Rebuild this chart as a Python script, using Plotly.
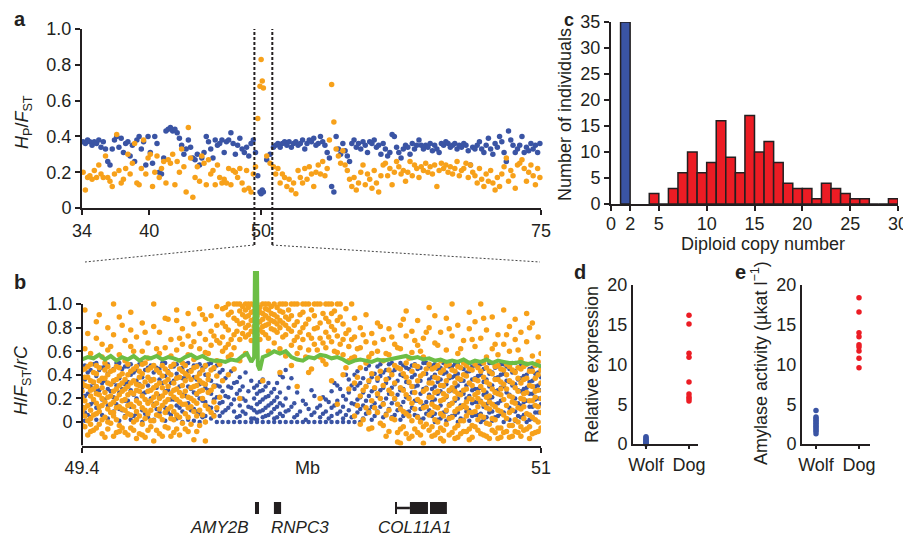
import plotly.graph_objects as go

# ---------------- DATA ----------------
# Panel a: window positions (Mb) and two statistics
a_pos = [34.1,34.3,34.5,34.7,34.9,35.1,35.3,35.5,35.7,35.9,
         36.1,36.3,36.5,36.7,36.9,37.1,37.3,37.5,37.7,37.9,
         38.1,38.3,38.5,38.7,38.9,39.1,39.3,39.5,39.7,39.9,
         40.1,40.3,40.5,40.7,40.9,41.1,41.3,41.5,41.7,41.9,
         42.1,42.3,42.5,42.7,42.9,43.1,43.3,43.5,43.7,43.9,
         44.1,44.3,44.5,44.7,44.9,45.1,45.3,45.5,45.7,45.9,
         46.1,46.3,46.5,46.7,46.9,47.1,47.3,47.5,47.7,47.9,
         48.1,48.3,48.5,48.7,48.9,49.1,49.3,49.5,49.7,49.9,
         50.0,50.1,50.2,50.5,50.8,
         51.1,51.3,51.5,51.7,51.9,52.1,52.3,52.5,52.7,52.9,
         53.1,53.3,53.5,53.7,53.9,54.1,54.3,54.5,54.7,54.9,
         55.1,55.3,55.5,55.7,55.9,56.1,56.3,56.5,56.7,56.9,
         57.1,57.3,57.5,57.7,57.9,58.1,58.3,58.5,58.7,58.9,
         59.1,59.3,59.5,59.7,59.9,60.1,60.3,60.5,60.7,60.9,
         61.1,61.3,61.5,61.7,61.9,62.1,62.3,62.5,62.7,62.9,
         63.1,63.3,63.5,63.7,63.9,64.1,64.3,64.5,64.7,64.9,
         65.1,65.3,65.5,65.7,65.9,66.1,66.3,66.5,66.7,66.9,
         67.1,67.3,67.5,67.7,67.9,68.1,68.3,68.5,68.7,68.9,
         69.1,69.3,69.5,69.7,69.9,70.1,70.3,70.5,70.7,70.9,
         71.1,71.3,71.5,71.7,71.9,72.1,72.3,72.5,72.7,72.9,
         73.1,73.3,73.5,73.7,73.9,74.1,74.3,74.5,74.7,74.9]
a_blue = [.37,.36,.38,.37,.35,.37,.36,.38,.34,.37,
          .33,.26,.24,.33,.38,.40,.34,.39,.31,.36,
          .37,.29,.35,.26,.38,.40,.33,.37,.24,.40,
          .31,.25,.40,.36,.20,.19,.28,.43,.44,.45,
          .43,.44,.42,.39,.35,.30,.33,.38,.34,.28,
          .27,.30,.24,.28,.31,.40,.37,.33,.28,.38,
          .35,.36,.38,.31,.37,.38,.42,.36,.30,.35,
          .39,.33,.31,.34,.29,.36,.38,.31,.18,.09,
          .08,.10,.09,.27,.30,
          .34,.35,.36,.34,.36,.37,.35,.37,.34,.36,
          .37,.35,.36,.38,.33,.36,.38,.37,.39,.35,
          .36,.40,.37,.35,.31,.28,.12,.09,.40,.33,
          .30,.36,.32,.29,.26,.36,.38,.34,.36,.33,
          .37,.35,.31,.37,.36,.38,.34,.35,.30,.36,
          .33,.29,.31,.41,.40,.34,.31,.28,.33,.35,
          .34,.30,.36,.33,.35,.38,.35,.33,.35,.34,
          .36,.32,.35,.33,.31,.36,.35,.37,.36,.34,
          .35,.36,.33,.35,.34,.36,.35,.32,.24,.34,
          .33,.35,.37,.33,.31,.35,.39,.33,.30,.36,
          .34,.40,.37,.31,.26,.43,.38,.35,.31,.33,
          .35,.40,.31,.34,.32,.36,.33,.35,.31,.36]
a_orange = [.20,.10,.17,.18,.16,.21,.17,.24,.19,.17,
            .29,.17,.15,.12,.19,.41,.21,.14,.16,.22,
            .30,.19,.25,.36,.14,.13,.22,.38,.19,.28,
            .30,.12,.20,.29,.17,.22,.26,.14,.27,.25,
            .30,.13,.26,.20,.33,.23,.09,.45,.28,.06,
            .17,.23,.15,.29,.25,.13,.27,.19,.21,.13,
            .24,.17,.14,.16,.14,.22,.13,.21,.20,.17,
            .22,.14,.10,.21,.11,.09,.19,.23,.50,.68,
            .83,.71,.67,.29,.25,
            .23,.19,.22,.14,.19,.17,.12,.16,.10,.14,
            .08,.21,.17,.14,.22,.16,.23,.19,.12,.20,
            .24,.19,.26,.18,.22,.38,.69,.48,.33,.29,
            .25,.32,.24,.21,.16,.12,.17,.10,.14,.20,
            .24,.13,.19,.16,.11,.21,.14,.09,.18,.24,
            .25,.18,.22,.13,.20,.26,.23,.19,.21,.15,
            .20,.26,.18,.24,.22,.17,.23,.21,.25,.20,
            .23,.19,.24,.12,.21,.25,.22,.24,.20,.23,
            .19,.22,.26,.18,.21,.22,.25,.17,.24,.20,
            .18,.14,.22,.16,.12,.19,.15,.21,.14,.10,
            .17,.12,.19,.23,.28,.15,.21,.18,.11,.24,
            .25,.27,.22,.15,.20,.24,.18,.13,.22,.17]
a_ticks = [34, 40, 50, 75]
a_zoom = [49.4, 51.0]

# Panel b: columns of sites (Mb) with the values found in each column
b_cols = [49.41,49.43,49.45,49.47,49.49,49.51,49.53,49.55,49.57,49.59,
          49.61,49.63,49.65,49.67,49.69,49.71,49.73,49.75,49.77,49.79,
          49.81,49.83,49.85,49.87,
          49.89,49.91,49.93,49.95,49.97,49.99,50.01,50.03,50.05,50.07,
          50.09,50.11,50.13,50.15,50.17,50.19,50.21,50.23,50.25,50.27,
          50.29,50.31,50.33,
          50.35,50.37,50.39,50.41,50.43,50.45,50.47,50.49,50.51,50.53,
          50.55,50.57,50.59,50.61,
          50.63,50.65,50.67,50.69,50.71,50.73,50.75,50.77,50.79,50.81,
          50.83,50.85,50.87,50.89,50.91,50.93,50.95,50.97,50.99]
b_orange = [
 [0.95,0.62,0.45,0.31,0.18,0.05,-0.04,0.12,0.38],
 [0.58,0.49,0.22,0.10,-0.02,0.27,0.35,0.03,-0.08],
 [0.85,0.71,0.41,0.30,0.16,0.07,-0.05,0.24,0.48],
 [0.66,0.55,0.37,0.20,0.02,-0.10,0.14,0.29],
 [0.80,0.61,0.47,0.33,0.11,0.00,-0.06,0.21,0.40],
 [1.00,0.74,0.44,0.26,0.08,-0.12,0.17,0.35,0.05],
 [0.89,0.57,0.39,0.23,0.13,-0.03,0.31,0.46,-0.08],
 [0.69,0.52,0.28,0.19,0.04,-0.09,0.36,0.10],
 [0.93,0.78,0.64,0.43,0.25,0.06,-0.05,0.15,0.33],
 [0.72,0.47,0.32,0.18,0.02,-0.14,0.09,0.27],
 [0.84,0.60,0.41,0.22,0.12,-0.02,-0.11,0.30,0.49],
 [0.67,0.54,0.38,0.26,0.07,-0.07,0.16,0.44],
 [1.00,0.81,0.48,0.29,0.14,0.01,-0.16,0.21,0.36],
 [0.76,0.58,0.42,0.20,0.05,-0.10,0.11,0.33],
 [0.88,0.63,0.45,0.34,0.17,-0.04,0.08,0.25],
 [0.70,0.56,0.40,0.24,0.03,-0.12,0.13,0.47],
 [0.95,0.86,0.61,0.37,0.19,0.06,-0.06,0.28],
 [0.79,0.66,0.50,0.31,0.15,-0.01,0.22,0.43],
 [0.92,0.73,0.57,0.39,0.21,0.04,-0.08,0.12],
 [0.83,0.68,0.53,0.46,0.30,0.09,-0.15,0.18],
 [0.96,0.75,0.62,0.41,0.26,0.10,-0.03,0.35],
 [0.87,0.70,0.59,0.48,0.32,0.14,0.00,-0.16],
 [0.90,0.77,0.65,0.44,0.27,0.08],
 [0.98,0.82,0.69,0.52,0.39,0.12],
 [0.96,0.84,0.72,0.60,0.35],
 [1.00,0.91,0.78,0.66,0.55,0.40],
 [1.00,0.88,0.74,0.63,0.45],
 [1.00,0.94,0.83,0.70,0.52,0.20],
 [1.00,0.95,0.89,0.80,0.72,0.58],
 [1.00,0.93,0.86,0.77,0.69],
 [1.00,0.96,0.90,0.84,0.79,0.74],
 [1.00,0.92,0.87,0.81,0.76,0.35],
 [1.00,0.95,0.88,0.83,0.71,0.60],
 [1.00,0.91,0.85,0.78,0.67],
 [1.00,0.94,0.86,0.80,0.62,0.42],
 [1.00,0.89,0.82,0.74,0.56],
 [1.00,0.90,0.77,0.65,0.48],
 [1.00,0.85,0.72,0.58,0.30],
 [1.00,0.93,0.80,0.70],
 [1.00,0.87,0.74,0.61,0.42],
 [1.00,0.90,0.79,0.66],
 [1.00,0.84,0.71,0.55,0.20],
 [1.00,0.88,0.76,0.63,0.49],
 [1.00,0.92,0.81,0.68,0.35],
 [1.00,0.86,0.73,0.59,0.15],
 [0.83,0.70,0.57,0.40],
 [0.78,0.64,0.52,0.28],
 [0.88,0.72,0.55,0.33,0.05],
 [0.80,0.63,0.46,0.22,-0.02],
 [0.91,0.68,0.50,0.30,0.12],
 [0.75,0.58,0.41,0.18,-0.05],
 [0.84,0.60,0.37,0.24,0.08],
 [0.70,0.52,0.31,0.15,-0.03],
 [0.79,0.57,0.44,0.27,0.10,-0.08],
 [0.66,0.48,0.33,0.20,0.02],
 [0.82,0.62,0.45,0.29,0.11,-0.06,-0.18],
 [0.94,0.73,0.50,0.38,0.23,0.07,-0.10],
 [0.77,0.59,0.43,0.30,0.16,0.01,-0.12],
 [0.86,0.65,0.47,0.35,0.19,0.04,-0.09],
 [0.71,0.55,0.41,0.26,0.12,-0.04,-0.18],
 [0.97,0.80,0.49,0.33,0.21,0.06,-0.07],
 [0.90,0.67,0.46,0.38,0.25,0.13,0.02,-0.11],
 [0.76,0.52,0.42,0.31,0.18,0.07,-0.05,-0.14],
 [0.88,0.61,0.48,0.35,0.22,0.10,-0.02],
 [1.00,0.73,0.44,0.29,0.16,0.04,-0.09],
 [0.82,0.58,0.47,0.37,0.24,0.11,-0.03,-0.13],
 [0.69,0.50,0.40,0.27,0.14,0.01,-0.08],
 [0.93,0.79,0.45,0.33,0.20,0.08,-0.06,-0.15],
 [0.85,0.64,0.49,0.36,0.23,0.09,-0.04],
 [1.00,0.71,0.43,0.30,0.17,0.05,-0.10],
 [0.78,0.55,0.46,0.34,0.21,0.12,-0.01,-0.12],
 [0.89,0.62,0.41,0.28,0.15,0.03,-0.07],
 [0.74,0.57,0.48,0.36,0.24,0.10,-0.05,-0.14],
 [0.95,0.66,0.44,0.32,0.19,0.06,-0.09],
 [0.81,0.60,0.47,0.35,0.22,0.08,-0.03,-0.13],
 [0.87,0.70,0.42,0.29,0.16,0.02,-0.08],
 [0.76,0.53,0.45,0.33,0.20,0.11,-0.04,-0.12],
 [0.92,0.68,0.49,0.37,0.25,0.07,-0.06],
 [0.84,0.56,0.43,0.30,0.18,0.04,-0.10],
 [0.72,0.51,0.40,0.27,0.13,0.00,-0.08]]
b_blue = [
 [0.48,0.36,0.22,0.08,0.01],[0.44,0.30,0.15,0.04],[0.50,0.39,0.26,0.12,0.02],
 [0.46,0.33,0.19,0.06],[0.49,0.41,0.28,0.14,0.03],[0.45,0.34,0.21,0.09],
 [0.50,0.37,0.25,0.11,0.01],[0.47,0.32,0.18,0.05],[0.49,0.40,0.27,0.13,0.02],
 [0.44,0.35,0.20,0.07],[0.50,0.38,0.24,0.10,0.00],[0.46,0.31,0.17,0.04],
 [0.48,0.42,0.29,0.15,0.02],[0.45,0.36,0.22,0.08],[0.50,0.39,0.26,0.12,0.01],
 [0.47,0.33,0.19,0.06],[0.49,0.41,0.28,0.14,0.03],[0.46,0.37,0.23,0.09,0.00],
 [0.50,0.43,0.30,0.16,0.02],[0.48,0.38,0.25,0.11,0.01],[0.49,0.42,0.32,0.20,0.07,0.00],
 [0.47,0.40,0.29,0.17,0.05,0.00],[0.50,0.44,0.35,0.24,0.12,0.03],[0.48,0.39,0.31,0.21,0.10,0.00],
 [0.44,0.35,0.26,0.17,0.08,0.00],[0.40,0.30,0.21,0.12,0.00],[0.45,0.33,0.19,0.09,0.00],
 [0.38,0.27,0.14,0.05,0.00],[0.42,0.18,0.07,0.00],[0.35,0.12,0.03,0.00],
 [0.31,0.24,0.15,0.08,0.02,0.00],[0.36,0.27,0.19,0.10,0.04,0.00],[0.33,0.22,0.14,0.06,0.00],
 [0.28,0.18,0.11,0.03,0.00],[0.40,0.25,0.16,0.07,0.00],[0.44,0.20,0.09,0.00],
 [0.37,0.13,0.00],[0.25,0.06,0.00],[0.18,0.00],[0.11,0.00],[0.22,0.08,0.00],
 [0.14,0.04,0.00],[0.19,0.09,0.00],[0.26,0.12,0.05,0.00],[0.31,0.18,0.07,0.00],
 [0.22,0.13,0.03,0.00],[0.36,0.25,0.10,0.00],
 [0.40,0.28,0.15,0.05,0.00],[0.33,0.21,0.11,0.00],[0.45,0.30,0.18,0.07],
 [0.38,0.26,0.13,0.02],[0.47,0.35,0.22,0.09],[0.42,0.29,0.16,0.04],
 [0.49,0.37,0.24,0.11],[0.44,0.32,0.19,0.06],[0.50,0.40,0.27,0.13,0.02],
 [0.46,0.34,0.21,0.08],[0.48,0.38,0.25,0.12,0.01],[0.45,0.31,0.18,0.05],
 [0.50,0.41,0.28,0.14,0.03],[0.47,0.36,0.23,0.10],
 [0.49,0.40,0.30,0.19,0.07,0.00],[0.46,0.36,0.26,0.14,0.03],[0.50,0.42,0.32,0.21,0.09,0.01],
 [0.47,0.38,0.27,0.16,0.05],[0.49,0.41,0.31,0.20,0.08,0.00],[0.45,0.35,0.24,0.13,0.02],
 [0.50,0.43,0.33,0.22,0.10,0.01],[0.48,0.37,0.28,0.17,0.06],[0.49,0.40,0.29,0.18,0.07,0.00],
 [0.46,0.36,0.25,0.15,0.04],[0.50,0.42,0.31,0.21,0.09,0.01],[0.47,0.38,0.27,0.16,0.05],
 [0.49,0.41,0.30,0.19,0.08,0.00],[0.45,0.34,0.23,0.12,0.02],[0.50,0.43,0.32,0.20,0.09,0.01],
 [0.48,0.37,0.26,0.14,0.04],[0.49,0.40,0.29,0.18,0.07,0.00],[0.46,0.35,0.24,0.13,0.03],
 [0.50,0.42,0.31,0.20,0.08]]
# second set of site columns, between the first ones
b_cols2 = [49.40,49.42,49.44,49.46,49.48,49.50,49.52,49.54,49.56,49.58,
           49.60,49.62,49.64,49.66,49.68,49.70,49.72,49.74,49.76,49.78,
           49.80,49.82,49.84,49.86,49.88,
           49.90,49.92,49.94,49.96,49.98,50.00,50.02,50.04,50.06,50.08,
           50.10,50.12,50.14,50.16,50.18,50.20,50.22,50.24,50.26,50.28,
           50.30,50.32,50.34,
           50.36,50.38,50.40,50.42,50.44,50.46,50.48,50.50,50.52,50.54,
           50.56,50.58,50.60,
           50.62,50.64,50.66,50.68,50.70,50.72,50.74,50.76,50.78,50.80,
           50.82,50.84,50.86,50.88,50.90,50.92,50.94,50.96,50.98,51.00]
b_orange2 = [
 [0.44,0.33,0.21,0.09,-0.03,0.26],[0.75,0.47,0.38,0.14,0.01,-0.11,0.30],
 [0.42,0.28,0.06,-0.07,0.19,0.34],[0.91,0.46,0.35,0.23,0.09,-0.02,0.13],
 [0.50,0.37,0.25,0.04,-0.13,0.17,0.44],[0.64,0.43,0.32,0.15,-0.01,0.22,0.08],
 [0.47,0.36,0.20,0.02,-0.09,0.28,0.12],[0.82,0.41,0.26,0.11,-0.05,0.33,0.18],
 [0.49,0.40,0.23,0.07,-0.11,0.30,0.14],[0.60,0.45,0.35,0.13,0.00,0.24,-0.07],
 [0.43,0.31,0.16,0.05,-0.10,0.26,0.38],[0.76,0.50,0.34,0.19,0.03,-0.13,0.10],
 [0.46,0.27,0.10,-0.04,0.35,0.18,0.01],[0.62,0.44,0.31,0.16,-0.07,0.24,0.06],
 [0.48,0.39,0.22,0.02,-0.12,0.29,0.14],[0.87,0.42,0.30,0.11,-0.05,0.19,0.36],
 [0.49,0.33,0.21,0.09,-0.09,0.27,0.02],[0.71,0.45,0.38,0.17,0.04,-0.11,0.25],
 [0.48,0.35,0.26,0.07,-0.06,0.15,0.41],[0.64,0.43,0.29,0.13,-0.02,0.20,0.36],
 [0.47,0.38,0.24,0.05,-0.08,0.31,0.16],[0.91,0.44,0.33,0.20,0.06,0.27],
 [0.58,0.40,0.25,0.11,0.36],[0.73,0.46,0.30,0.17,0.05],[0.67,0.49,0.21],
 [0.97,0.81,0.63],[0.93,0.70,0.57],[1.00,0.86,0.77],[0.98,0.91,0.84,0.75],
 [1.00,0.97,0.90,0.82,0.74],[0.99,0.94,0.87,0.81,0.76],[0.97,0.93,0.85,0.78,0.70],
 [1.00,0.96,0.90,0.82,0.74],[0.98,0.92,0.86,0.79],[0.97,0.89,0.83,0.76],
 [1.00,0.93,0.84,0.72],[0.95,0.87,0.79],[1.00,0.82,0.69],[0.91,0.76,0.63],
 [1.00,0.83,0.55],[0.95,0.71,0.45],[1.00,0.80,0.61],[0.92,0.67,0.52],
 [1.00,0.85,0.72],[0.94,0.78,0.60],[1.00,0.89,0.66],[0.96,0.75,0.46],[1.00,0.70,0.54],
 [0.62,0.38,0.14],[0.74,0.27,0.02],[0.55,0.35,0.08,-0.06],[0.67,0.29,0.12],
 [0.81,0.43,0.20,-0.01],[0.58,0.36,0.06,-0.12],[0.72,0.40,0.24,0.03],
 [0.63,0.46,0.15,-0.09,-0.17],[0.87,0.41,0.27,0.09,-0.04],[0.54,0.34,0.20,0.05,-0.14],
 [0.69,0.48,0.25,0.11,-0.06],[0.60,0.39,0.17,0.00,-0.11],[0.76,0.45,0.28,0.13,-0.02],
 [0.45,0.33,0.21,0.08,-0.04,0.15,-0.12],[0.65,0.48,0.37,0.26,0.12,0.00,-0.09],
 [0.44,0.31,0.19,0.05,-0.07,0.24,-0.16],[0.79,0.49,0.39,0.27,0.14,0.03,-0.11],
 [0.43,0.33,0.20,0.09,-0.05,0.26,-0.14],[0.62,0.46,0.36,0.23,0.12,0.01,-0.10],
 [0.48,0.39,0.28,0.17,0.05,-0.08,0.12],[0.70,0.44,0.31,0.19,0.08,-0.03,-0.13],
 [0.46,0.35,0.25,0.13,0.02,-0.07,0.20],[0.88,0.50,0.38,0.27,0.15,0.04,-0.11],
 [0.43,0.32,0.22,0.11,-0.02,0.17,-0.14],[0.66,0.47,0.36,0.25,0.13,0.02,-0.09],
 [0.45,0.34,0.23,0.09,-0.05,0.28,-0.13],[0.74,0.49,0.40,0.28,0.14,0.03,-0.08],
 [0.44,0.33,0.21,0.10,-0.03,0.17,-0.12],[0.61,0.46,0.37,0.26,0.12,0.00,-0.09],
 [0.47,0.36,0.24,0.13,0.03,-0.07,0.19],[0.80,0.43,0.31,0.18,0.06,-0.04,-0.14],
 [0.48,0.37,0.26,0.14,0.02,-0.09,0.21],[0.58,0.44,0.33,0.20,0.08,-0.05]]
b_blue2 = [
 [0.47,0.29,0.13],[0.42,0.24,0.06],[0.49,0.33,0.17],[0.44,0.27,0.09],[0.48,0.35,0.19],
 [0.43,0.26,0.08],[0.50,0.31,0.15],[0.45,0.28,0.10],[0.47,0.34,0.18],[0.42,0.23,0.05],
 [0.49,0.32,0.16],[0.44,0.25,0.07],[0.48,0.36,0.20],[0.46,0.29,0.11],[0.50,0.33,0.14],
 [0.43,0.27,0.08],[0.47,0.35,0.19],[0.45,0.30,0.12],[0.49,0.37,0.22],[0.44,0.28,0.10],
 [0.48,0.36,0.23,0.09],[0.46,0.33,0.18,0.04],[0.49,0.39,0.27,0.13],[0.45,0.31,0.19,0.06],
 [0.42,0.30,0.16,0.05],
 [0.37,0.22,0.10],[0.43,0.29,0.15],[0.34,0.24,0.04],[0.30,0.20,0.09],[0.26,0.13],
 [0.29,0.20,0.10,0.03],[0.34,0.26,0.17,0.09],[0.30,0.21,0.12,0.05],[0.25,0.16,0.08],
 [0.33,0.21,0.13,0.04],[0.38,0.14,0.05],[0.29,0.10],[0.16,0.04],[0.09],[0.15,0.02],
 [0.27,0.06],[0.12],[0.21,0.07],[0.17,0.03],[0.33,0.14],[0.28,0.09],[0.40,0.19,0.06],
 [0.31,0.16,0.04],
 [0.43,0.31,0.19,0.08],[0.37,0.25,0.14,0.03],[0.48,0.34,0.22,0.10],[0.41,0.28,0.16,0.05],
 [0.49,0.39,0.27,0.13],[0.44,0.33,0.20,0.07],[0.50,0.42,0.29,0.16,0.04],[0.46,0.35,0.23,0.10],
 [0.48,0.39,0.28,0.17,0.05],[0.45,0.33,0.21,0.09],[0.49,0.40,0.30,0.18,0.06],
 [0.46,0.35,0.24,0.11,0.02],[0.50,0.41,0.29,0.17,0.07],
 [0.48,0.38,0.28,0.17,0.05],[0.45,0.34,0.24,0.12,0.02],[0.50,0.41,0.30,0.19,0.08],
 [0.47,0.37,0.26,0.15,0.04],[0.49,0.39,0.29,0.18,0.06],[0.46,0.35,0.25,0.14,0.03],
 [0.50,0.42,0.31,0.20,0.09],[0.47,0.36,0.27,0.16,0.05],[0.48,0.39,0.28,0.17,0.06],
 [0.45,0.34,0.23,0.13,0.02],[0.50,0.41,0.30,0.19,0.08],[0.46,0.37,0.26,0.15,0.04],
 [0.49,0.40,0.29,0.18,0.07],[0.47,0.35,0.25,0.14,0.03],[0.50,0.42,0.31,0.21,0.10],
 [0.46,0.36,0.27,0.16,0.05],[0.48,0.39,0.28,0.17,0.06],[0.45,0.34,0.24,0.13,0.02],
 [0.49,0.41,0.30,0.19,0.08],[0.47,0.38,0.27,0.15]]
b_line_x = [49.40,49.42,49.44,49.46,49.48,49.50,49.52,49.54,49.56,49.58,
            49.60,49.62,49.64,49.66,49.68,49.70,49.72,49.74,49.76,49.78,
            49.80,49.82,49.84,49.86,49.88,49.90,49.92,49.94,49.96,49.975,
            49.99,50.000,50.003,50.010,50.013,50.02,50.03,50.05,50.07,50.09,
            50.11,50.13,50.15,50.17,50.19,50.21,50.23,50.25,50.27,50.29,
            50.31,50.33,50.35,50.37,50.39,50.41,50.43,50.45,50.47,50.49,
            50.51,50.53,50.55,50.57,50.59,50.61,50.63,50.65,50.67,50.69,
            50.71,50.73,50.75,50.77,50.79,50.81,50.83,50.85,50.87,50.89,
            50.91,50.93,50.95,50.97,50.99,51.00]
b_line_y = [.53,.55,.54,.57,.53,.56,.52,.55,.53,.56,
            .52,.55,.54,.56,.53,.55,.54,.52,.55,.57,
            .54,.56,.53,.52,.52,.51,.53,.52,.56,.58,
            .51,.55,1.32,1.32,.48,.44,.55,.57,.60,.58,
            .60,.55,.53,.52,.55,.54,.57,.56,.54,.55,
            .53,.50,.52,.53,.52,.51,.53,.52,.53,.54,
            .55,.56,.54,.55,.53,.54,.52,.53,.51,.52,
            .51,.53,.50,.52,.51,.53,.50,.52,.51,.50,
            .50,.51,.49,.50,.48,.47]
b_ticks = [49.4, 51]
gene_names = ["AMY2B", "RNPC3", "COL11A1"]
gene_label_x = [49.88, 50.16, 50.56]
gene_blocks = [(50.003, 50.017), (50.069, 50.094), (50.491, 50.498), (50.543, 50.606), (50.613, 50.672)]
gene_intron = (50.498, 50.543)

# Panel c: histogram of diploid copy number
c_wolf_bin = [1]
c_wolf_cnt = [35]
c_dog_bin = [4,5,6,7,8,9,10,11,12,13,14,15,16,17,18,19,20,21,22,23,24,25,26,27,28,29]
c_dog_cnt = [2,0,3,6,10,6,8,16,9,6,17,10,12,8,4,3,3,1,4,3,2,1,1,0,0,1]
c_xticks = [0,2,5,10,15,20,25,30]

# Panels d, e
groups = ["Wolf", "Dog"]
d_wolf = [0.9,0.75,0.6,0.45,0.3,0.15,0.05,0.0]
d_dog = [16.2,15.1,11.4,10.9,7.8,6.3,5.9,5.7,5.4]
e_wolf = [4.2,3.4,3.2,3.0,2.8,2.6,2.4,2.2,2.0,1.8,1.6,1.3]
e_dog = [18.4,16.6,14.0,13.5,12.5,12.2,11.7,10.8,9.6]

# ---------------- STYLE ----------------
INK = '#231F20'
BLUE = '#3A54A4'
ORANGE = '#F7A11A'
RED = '#EC1C24'
GREEN = '#6CBE45'
FONT = 'Liberation Sans, Arial, Helvetica, sans-serif'
OFF = 8                     # page body margin of the html page
W, H = 911 - OFF, 543 - OFF


def px(x):
    return (x - OFF) / W


def py(y):
    return 1 - (y - OFF) / H


def flat_x(cols, groups_):
    return [c for c, vals in zip(cols, groups_) for _ in vals]


def flat_y(groups_):
    return [v for vals in groups_ for v in vals]


fig = go.Figure()

# Panel a
fig.add_trace(go.Scatter(x=a_pos, y=a_blue, mode='markers', xaxis='x', yaxis='y',
                         marker=dict(color=BLUE, size=5.5), cliponaxis=False))
fig.add_trace(go.Scatter(x=a_pos, y=a_orange, mode='markers', xaxis='x', yaxis='y',
                         marker=dict(color=ORANGE, size=5.5), cliponaxis=False))

# Panel b
fig.add_trace(go.Scatter(x=flat_x(b_cols, b_blue) + flat_x(b_cols2, b_blue2),
                         y=flat_y(b_blue) + flat_y(b_blue2), mode='markers', xaxis='x2', yaxis='y2',
                         marker=dict(color=BLUE, size=4.5)))
fig.add_trace(go.Scatter(x=flat_x(b_cols, b_orange) + flat_x(b_cols2, b_orange2),
                         y=flat_y(b_orange) + flat_y(b_orange2), mode='markers', xaxis='x2', yaxis='y2',
                         marker=dict(color=ORANGE, size=5.5)))
fig.add_trace(go.Scatter(x=b_line_x, y=b_line_y, mode='lines', xaxis='x2', yaxis='y2',
                         line=dict(color=GREEN, width=4)))

# Panel c
fig.add_trace(go.Bar(x=[b + 0.5 for b in c_wolf_bin], y=c_wolf_cnt, width=1, xaxis='x3', yaxis='y3',
                     marker=dict(color=BLUE, line=dict(color=INK, width=1.5))))
fig.add_trace(go.Bar(x=[b + 0.5 for b in c_dog_bin], y=c_dog_cnt, width=1, xaxis='x3', yaxis='y3',
                     marker=dict(color=RED, line=dict(color=INK, width=1.5))))

# Panels d, e
fig.add_trace(go.Scatter(x=[1] * len(d_wolf), y=d_wolf, mode='markers', xaxis='x4', yaxis='y4',
                         marker=dict(color=BLUE, size=5.5), cliponaxis=False))
fig.add_trace(go.Scatter(x=[2] * len(d_dog), y=d_dog, mode='markers', xaxis='x4', yaxis='y4',
                         marker=dict(color=RED, size=5.5), cliponaxis=False))
fig.add_trace(go.Scatter(x=[1] * len(e_wolf), y=e_wolf, mode='markers', xaxis='x5', yaxis='y5',
                         marker=dict(color=BLUE, size=5.5), cliponaxis=False))
fig.add_trace(go.Scatter(x=[2] * len(e_dog), y=e_dog, mode='markers', xaxis='x5', yaxis='y5',
                         marker=dict(color=RED, size=5.5), cliponaxis=False))

ax = dict(showline=True, linecolor=INK, linewidth=2, ticks='outside', ticklen=5, tickwidth=1.5,
          tickcolor=INK, showgrid=False, zeroline=False, automargin=False,
          tickfont=dict(size=18, color=INK, family=FONT))

yt = [0, 0.2, 0.4, 0.6, 0.8, 1.0]
ytt = ['0', '0.2', '0.4', '0.6', '0.8', '1.0']

fig.update_layout(
    width=W, height=H, autosize=False, margin=dict(l=0, r=0, t=0, b=0),
    paper_bgcolor='white', plot_bgcolor='white', showlegend=False, barmode='overlay',
    font=dict(family=FONT, color=INK, size=18),
    xaxis=dict(ax, domain=[px(82), px(541)], range=[34, 75], anchor='y',
               tickvals=a_ticks, ticktext=[str(t) for t in a_ticks]),
    yaxis=dict(ax, domain=[py(208), py(29)], range=[0, 1], anchor='x',
               tickvals=yt, ticktext=ytt),
    xaxis2=dict(ax, domain=[px(82), px(541)], range=[49.4, 51], anchor='y2',
                tickvals=b_ticks, ticktext=['49.4', '51']),
    yaxis2=dict(ax, domain=[py(445.6), py(271)], range=[-0.2, 1.28], anchor='x2', showline=False,
                tickvals=yt, ticktext=ytt),
    xaxis3=dict(ax, domain=[px(611), px(898)], range=[0, 30], anchor='y3',
                tickvals=c_xticks, ticktext=[str(t) for t in c_xticks], ticklabelstandoff=-3),
    yaxis3=dict(ax, domain=[py(204), py(22)], range=[0, 35], anchor='x3',
                tickvals=[0, 5, 10, 15, 20, 25, 30, 35]),
    xaxis4=dict(ax, domain=[px(633), px(698)], range=[0.698, 2.209], anchor='y4',
                tickvals=[1, 2], ticktext=groups, ticklen=3),
    yaxis4=dict(ax, domain=[py(444), py(285)], range=[0, 20], anchor='x4',
                tickvals=[0, 5, 10, 15, 20], ticks=''),
    xaxis5=dict(ax, domain=[px(802), px(870)], range=[0.674, 2.256], anchor='y5',
                tickvals=[1, 2], ticktext=groups, ticklen=3),
    yaxis5=dict(ax, domain=[py(444), py(285)], range=[0, 20], anchor='x5',
                tickvals=[0, 5, 10, 15, 20], ticks=''),
)

shapes = []
# y-axis line of panel b (only up to 1.0)
shapes.append(dict(type='line', xref='x2 domain', yref='y2', x0=0, x1=0, y0=-0.2, y1=1.0,
                   line=dict(color=INK, width=2)))
# zoom window in panel a
for xv in a_zoom:
    shapes.append(dict(type='line', xref='x', yref='paper', x0=xv, x1=xv, y0=py(245), y1=py(29),
                       line=dict(color=INK, width=2, dash='3px,2px')))
shapes.append(dict(type='line', xref='paper', yref='paper', x0=px(254), y0=py(245), x1=px(85), y1=py(262),
                   line=dict(color='#444444', width=1, dash='2px,2px')))
shapes.append(dict(type='line', xref='paper', yref='paper', x0=px(272), y0=py(245), x1=px(540), y1=py(262),
                   line=dict(color='#444444', width=1, dash='2px,2px')))
# gene models
for g0, g1 in gene_blocks:
    shapes.append(dict(type='rect', xref='x2', yref='paper', x0=g0, x1=g1, y0=py(514), y1=py(502),
                       fillcolor=INK, line=dict(width=0)))
shapes.append(dict(type='line', xref='x2', yref='paper', x0=gene_intron[0], x1=gene_intron[1],
                   y0=py(508), y1=py(508), line=dict(color=INK, width=2.5)))
fig.update_layout(shapes=shapes)

ann = []


def text(x, y, s, size=18, angle=0, bold=False, italic=False, xanchor='center', yanchor='middle'):
    if bold:
        s = '<b>' + s + '</b>'
    if italic:
        s = '<i>' + s + '</i>'
    ann.append(dict(x=px(x), y=py(y), xref='paper', yref='paper', text=s, showarrow=False,
                    textangle=angle, xanchor=xanchor, yanchor=yanchor,
                    font=dict(size=size, color=INK, family=FONT)))


text(20, 19, 'a', 20, bold=True)
text(20, 282, 'b', 20, bold=True)
text(569, 8, 'c', 18, bold=True, yanchor='top')
text(580, 272, 'd', 20, bold=True)
text(740, 272, 'e', 20, bold=True)
text(23, 122, '<i>H</i><sub>P</sub>/<i>F</i><sub>ST</sub>', 18, angle=-90)
text(22, 380, '<i>H</i>/<i>F</i><sub>ST</sub>/<i>rC</i>', 18, angle=-90)
text(307, 468, 'Mb', 18)
text(565, 115, 'Number of individuals', 18, angle=-90)
text(763, 244, 'Diploid copy number', 18)
text(592, 365, 'Relative expression', 18, angle=-90)
text(759, 363, 'Amylase activity (µkat l<sup>−1</sup>)', 18, angle=-90)
for name, gx in zip(gene_names, gene_label_x):
    ann.append(dict(x=gx, y=py(527), xref='x2', yref='paper', text='<i>' + name + '</i>',
                    showarrow=False, xanchor='center', yanchor='middle',
                    font=dict(size=17, color=INK, family=FONT)))
fig.update_layout(annotations=ann)

fig.write_html('out.html')
